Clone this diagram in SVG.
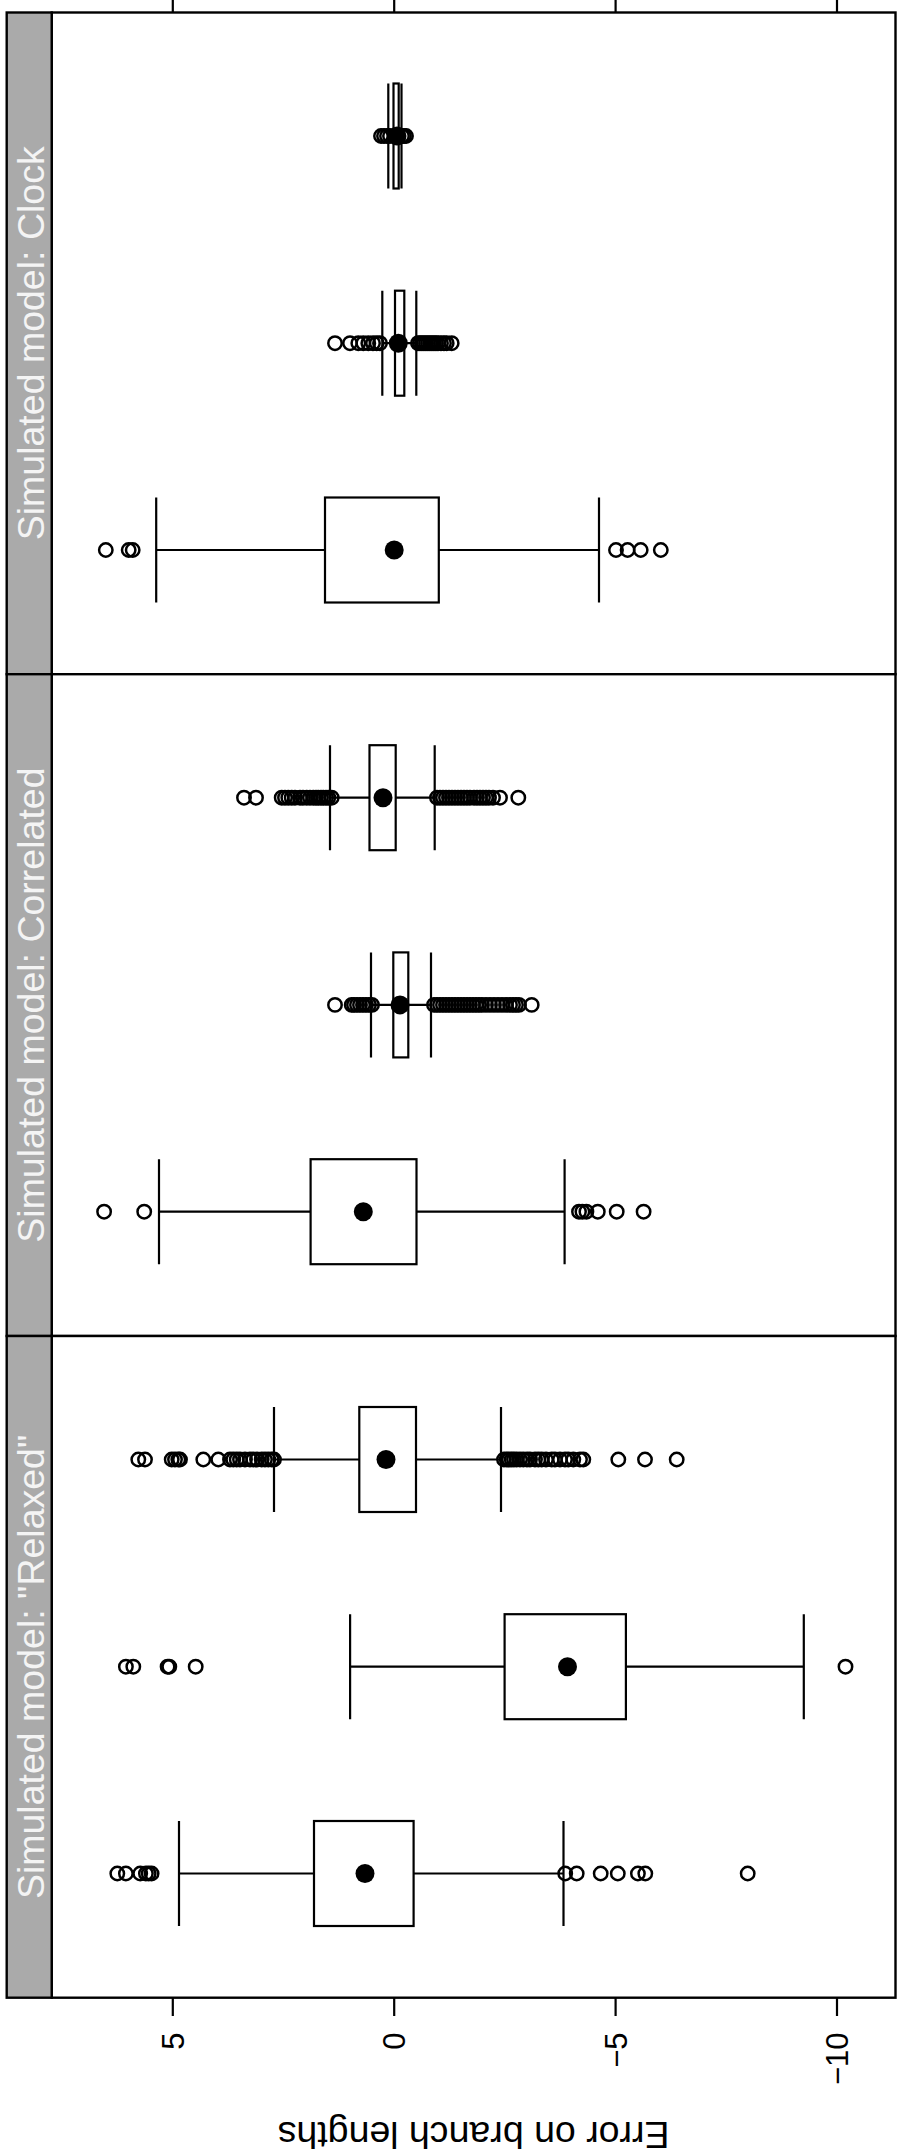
<svg xmlns="http://www.w3.org/2000/svg" width="897" height="2156" viewBox="0 0 897 2156">
<style>
.fr{fill:#fff;stroke:#000;stroke-width:2.4}
.st{fill:#aaaaaa;stroke:#000;stroke-width:2.4}
.bx{fill:none;stroke:#000;stroke-width:2.2}
.o circle{fill:none;stroke:#000;stroke-width:2.5}
.m{fill:#000}
.ax{stroke:#000;stroke-width:2.2}
text{font-family:"Liberation Sans",Arial,Helvetica,sans-serif}
.sl{fill:#f4f4f4;font-size:37.5px}
.tl{font-size:31px;fill:#000}
.ttl{font-size:37.5px;fill:#000}
</style>
<rect x="0" y="0" width="897" height="2156" fill="#fff"/>

<g id="axes">
<path class="ax" d="M172.8 0V12.5M394.2 0V12.5M615.6 0V12.5M837 0V12.5M172.8 1997.7V2016M394.2 1997.7V2016M615.6 1997.7V2016M837 1997.7V2016"/>
<text class="tl" text-anchor="end" transform="translate(183.8,2032.5) rotate(-90)">5</text>
<text class="tl" text-anchor="end" transform="translate(405.2,2032.5) rotate(-90)">0</text>
<text class="tl" text-anchor="end" transform="translate(626.6,2032.5) rotate(-90)">−5</text>
<text class="tl" text-anchor="end" transform="translate(848,2032.5) rotate(-90)">−10</text>
<text class="ttl" text-anchor="middle" transform="translate(473.6,2121.7) rotate(180)">Error on branch lengths</text>
</g>

<g id="panel-clock">
<rect class="fr" x="51.7" y="12.5" width="843.8" height="661.7"/>
<rect class="st" x="6.7" y="12.5" width="45" height="661.7"/>
<text class="sl" text-anchor="middle" transform="translate(43.5,343.3) rotate(-90)">Simulated model: Clock</text>
<g transform="translate(0,136)">
<path class="bx" d="M388.3 -52.5V52.5M388.3 0H393.5M398.7 0H401.5M401.5 -52.5V52.5"/>
<rect class="bx" x="393.5" y="-52.5" width="5.2" height="105"/>
<g class="o"><circle cx="381" cy="0" r="6.7"/><circle cx="384" cy="0" r="6.7"/><circle cx="387" cy="0" r="6.7"/><circle cx="390" cy="0" r="6.7"/><circle cx="402" cy="0" r="6.7"/><circle cx="404" cy="0" r="6.7"/><circle cx="406" cy="0" r="6.7"/></g>
<circle class="m" cx="397" cy="0" r="9.5"/>
</g>
<g transform="translate(0,343.2)">
<path class="bx" d="M382.3 -52.5V52.5M382.3 0H395M404.3 0H416.3M416.3 -52.5V52.5"/>
<rect class="bx" x="395" y="-52.5" width="9.3" height="105"/>
<g class="o"><circle cx="335" cy="0" r="6.7"/><circle cx="350" cy="0" r="6.7"/><circle cx="358.3" cy="0" r="6.7"/><circle cx="363.3" cy="0" r="6.7"/><circle cx="368.3" cy="0" r="6.7"/><circle cx="373" cy="0" r="6.7"/><circle cx="376.7" cy="0" r="6.7"/><circle cx="380" cy="0" r="6.7"/>
<circle cx="418" cy="0" r="6.7"/><circle cx="420" cy="0" r="6.7"/><circle cx="422" cy="0" r="6.7"/><circle cx="424" cy="0" r="6.7"/><circle cx="426" cy="0" r="6.7"/><circle cx="428" cy="0" r="6.7"/><circle cx="430" cy="0" r="6.7"/><circle cx="432" cy="0" r="6.7"/><circle cx="434" cy="0" r="6.7"/><circle cx="436" cy="0" r="6.7"/><circle cx="438" cy="0" r="6.7"/><circle cx="441" cy="0" r="6.7"/><circle cx="444" cy="0" r="6.7"/><circle cx="446.7" cy="0" r="6.7"/><circle cx="451.7" cy="0" r="6.7"/></g>
<circle class="m" cx="398.3" cy="0" r="9.5"/>
</g>
<g transform="translate(0,550)">
<path class="bx" d="M156.2 -52.5V52.5M156.2 0H325M438.8 0H599M599 -52.5V52.5"/>
<rect class="bx" x="325" y="-52.5" width="113.8" height="105"/>
<g class="o"><circle cx="105.8" cy="0" r="6.7"/><circle cx="128.7" cy="0" r="6.7"/><circle cx="132.7" cy="0" r="6.7"/><circle cx="616" cy="0" r="6.7"/><circle cx="627.6" cy="0" r="6.7"/><circle cx="640.7" cy="0" r="6.7"/><circle cx="660.8" cy="0" r="6.7"/></g>
<circle class="m" cx="394.2" cy="0" r="9.5"/>
</g>
</g>

<g id="panel-correlated">
<rect class="fr" x="51.7" y="674.2" width="843.8" height="661.8"/>
<rect class="st" x="6.7" y="674.2" width="45" height="661.8"/>
<text class="sl" text-anchor="middle" transform="translate(43.5,1005.1) rotate(-90)">Simulated model: Correlated</text>
<g transform="translate(0,797.7)">
<path class="bx" d="M330 -52.5V52.5M330 0H369.5M395.7 0H434.7M434.7 -52.5V52.5"/>
<rect class="bx" x="369.5" y="-52.5" width="26.2" height="105"/>
<g class="o"><circle cx="244" cy="0" r="6.7"/><circle cx="256" cy="0" r="6.7"/><circle cx="281.7" cy="0" r="6.7"/><circle cx="285" cy="0" r="6.7"/><circle cx="288.3" cy="0" r="6.7"/><circle cx="291.7" cy="0" r="6.7"/><circle cx="295" cy="0" r="6.7"/><circle cx="300" cy="0" r="6.7"/><circle cx="303" cy="0" r="6.7"/><circle cx="306.7" cy="0" r="6.7"/><circle cx="310" cy="0" r="6.7"/><circle cx="313.3" cy="0" r="6.7"/><circle cx="316" cy="0" r="6.7"/><circle cx="318.3" cy="0" r="6.7"/><circle cx="321" cy="0" r="6.7"/><circle cx="323.3" cy="0" r="6.7"/><circle cx="326" cy="0" r="6.7"/><circle cx="328.3" cy="0" r="6.7"/><circle cx="331.7" cy="0" r="6.7"/>
<circle cx="437" cy="0" r="6.7"/><circle cx="440" cy="0" r="6.7"/><circle cx="443" cy="0" r="6.7"/><circle cx="446" cy="0" r="6.7"/><circle cx="449" cy="0" r="6.7"/><circle cx="452" cy="0" r="6.7"/><circle cx="455" cy="0" r="6.7"/><circle cx="458" cy="0" r="6.7"/><circle cx="461" cy="0" r="6.7"/><circle cx="464" cy="0" r="6.7"/><circle cx="467" cy="0" r="6.7"/><circle cx="470" cy="0" r="6.7"/><circle cx="474" cy="0" r="6.7"/><circle cx="477" cy="0" r="6.7"/><circle cx="480" cy="0" r="6.7"/><circle cx="483" cy="0" r="6.7"/><circle cx="486" cy="0" r="6.7"/><circle cx="489" cy="0" r="6.7"/><circle cx="493" cy="0" r="6.7"/><circle cx="500" cy="0" r="6.7"/><circle cx="518.3" cy="0" r="6.7"/></g>
<circle class="m" cx="383" cy="0" r="9.5"/>
</g>
<g transform="translate(0,1004.9)">
<path class="bx" d="M371 -52.5V52.5M371 0H393.3M408.3 0H431M431 -52.5V52.5"/>
<rect class="bx" x="393.3" y="-52.5" width="15" height="105"/>
<g class="o"><circle cx="335" cy="0" r="6.7"/><circle cx="351.7" cy="0" r="6.7"/><circle cx="354" cy="0" r="6.7"/><circle cx="357" cy="0" r="6.7"/><circle cx="360" cy="0" r="6.7"/><circle cx="363" cy="0" r="6.7"/><circle cx="366" cy="0" r="6.7"/><circle cx="369" cy="0" r="6.7"/><circle cx="372" cy="0" r="6.7"/>
<circle cx="434" cy="0" r="6.7"/><circle cx="437" cy="0" r="6.7"/><circle cx="440" cy="0" r="6.7"/><circle cx="443" cy="0" r="6.7"/><circle cx="446" cy="0" r="6.7"/><circle cx="449" cy="0" r="6.7"/><circle cx="452" cy="0" r="6.7"/><circle cx="455" cy="0" r="6.7"/><circle cx="458" cy="0" r="6.7"/><circle cx="461" cy="0" r="6.7"/><circle cx="464" cy="0" r="6.7"/><circle cx="467" cy="0" r="6.7"/><circle cx="470" cy="0" r="6.7"/><circle cx="473" cy="0" r="6.7"/><circle cx="476" cy="0" r="6.7"/><circle cx="479" cy="0" r="6.7"/><circle cx="482" cy="0" r="6.7"/><circle cx="486" cy="0" r="6.7"/><circle cx="490" cy="0" r="6.7"/><circle cx="494" cy="0" r="6.7"/><circle cx="498" cy="0" r="6.7"/><circle cx="502" cy="0" r="6.7"/><circle cx="506" cy="0" r="6.7"/><circle cx="510" cy="0" r="6.7"/><circle cx="513" cy="0" r="6.7"/><circle cx="516" cy="0" r="6.7"/><circle cx="519" cy="0" r="6.7"/><circle cx="531.7" cy="0" r="6.7"/></g>
<circle class="m" cx="400" cy="0" r="9.5"/>
</g>
<g transform="translate(0,1211.7)">
<path class="bx" d="M159 -52.5V52.5M159 0H310.6M416.5 0H564.6M564.6 -52.5V52.5"/>
<rect class="bx" x="310.6" y="-52.5" width="105.9" height="105"/>
<g class="o"><circle cx="104.1" cy="0" r="6.7"/><circle cx="144.2" cy="0" r="6.7"/><circle cx="579" cy="0" r="6.7"/><circle cx="582.4" cy="0" r="6.7"/><circle cx="586.4" cy="0" r="6.7"/><circle cx="597.8" cy="0" r="6.7"/><circle cx="616.7" cy="0" r="6.7"/><circle cx="643.6" cy="0" r="6.7"/></g>
<circle class="m" cx="363.3" cy="0" r="9.5"/>
</g>
</g>

<g id="panel-relaxed">
<rect class="fr" x="51.7" y="1336" width="843.8" height="661.7"/>
<rect class="st" x="6.7" y="1336" width="45" height="661.7"/>
<text class="sl" text-anchor="middle" transform="translate(43.5,1666.9) rotate(-90)">Simulated model: "Relaxed"</text>
<g transform="translate(0,1459.5)">
<path class="bx" d="M274 -52.5V52.5M274 0H359.3M416 0H501M501 -52.5V52.5"/>
<rect class="bx" x="359.3" y="-52.5" width="56.7" height="105"/>
<g class="o"><circle cx="138.3" cy="0" r="6.7"/><circle cx="145" cy="0" r="6.7"/><circle cx="171.7" cy="0" r="6.7"/><circle cx="175" cy="0" r="6.7"/><circle cx="178.3" cy="0" r="6.7"/><circle cx="180" cy="0" r="6.7"/><circle cx="203.3" cy="0" r="6.7"/><circle cx="218.3" cy="0" r="6.7"/><circle cx="230" cy="0" r="6.7"/><circle cx="233.3" cy="0" r="6.7"/><circle cx="236.7" cy="0" r="6.7"/><circle cx="240" cy="0" r="6.7"/><circle cx="245" cy="0" r="6.7"/><circle cx="250" cy="0" r="6.7"/><circle cx="253.3" cy="0" r="6.7"/><circle cx="257" cy="0" r="6.7"/><circle cx="261.7" cy="0" r="6.7"/><circle cx="265" cy="0" r="6.7"/><circle cx="268.3" cy="0" r="6.7"/><circle cx="271.7" cy="0" r="6.7"/><circle cx="274" cy="0" r="6.7"/>
<circle cx="504" cy="0" r="6.7"/><circle cx="506.7" cy="0" r="6.7"/><circle cx="509" cy="0" r="6.7"/><circle cx="511.7" cy="0" r="6.7"/><circle cx="514" cy="0" r="6.7"/><circle cx="516.7" cy="0" r="6.7"/><circle cx="520" cy="0" r="6.7"/><circle cx="523.3" cy="0" r="6.7"/><circle cx="527" cy="0" r="6.7"/><circle cx="530" cy="0" r="6.7"/><circle cx="535" cy="0" r="6.7"/><circle cx="538.3" cy="0" r="6.7"/><circle cx="541.7" cy="0" r="6.7"/><circle cx="546" cy="0" r="6.7"/><circle cx="551.7" cy="0" r="6.7"/><circle cx="555" cy="0" r="6.7"/><circle cx="560" cy="0" r="6.7"/><circle cx="565" cy="0" r="6.7"/><circle cx="568.3" cy="0" r="6.7"/><circle cx="573.3" cy="0" r="6.7"/><circle cx="580" cy="0" r="6.7"/><circle cx="583.3" cy="0" r="6.7"/><circle cx="618.3" cy="0" r="6.7"/><circle cx="645" cy="0" r="6.7"/><circle cx="676.7" cy="0" r="6.7"/></g>
<circle class="m" cx="386" cy="0" r="9.5"/>
</g>
<g transform="translate(0,1666.7)">
<path class="bx" d="M350.1 -52.5V52.5M350.1 0H504.6M625.9 0H803.8M803.8 -52.5V52.5"/>
<rect class="bx" x="504.6" y="-52.5" width="121.3" height="105"/>
<g class="o"><circle cx="125.9" cy="0" r="6.7"/><circle cx="133.3" cy="0" r="6.7"/><circle cx="167.6" cy="0" r="6.7"/><circle cx="169.3" cy="0" r="6.7"/><circle cx="195.7" cy="0" r="6.7"/><circle cx="845.5" cy="0" r="6.7"/></g>
<circle class="m" cx="567.5" cy="0" r="9.5"/>
</g>
<g transform="translate(0,1873.5)">
<path class="bx" d="M179 -52.5V52.5M179 0H314M413.6 0H563.5M563.5 -52.5V52.5"/>
<rect class="bx" x="314" y="-52.5" width="99.6" height="105"/>
<g class="o"><circle cx="117.3" cy="0" r="6.7"/><circle cx="125.9" cy="0" r="6.7"/><circle cx="140.2" cy="0" r="6.7"/><circle cx="145.9" cy="0" r="6.7"/><circle cx="148.7" cy="0" r="6.7"/><circle cx="151.6" cy="0" r="6.7"/><circle cx="565.2" cy="0" r="6.7"/><circle cx="576.7" cy="0" r="6.7"/><circle cx="600.7" cy="0" r="6.7"/><circle cx="617.8" cy="0" r="6.7"/><circle cx="637.9" cy="0" r="6.7"/><circle cx="645.3" cy="0" r="6.7"/><circle cx="747.7" cy="0" r="6.7"/></g>
<circle class="m" cx="365" cy="0" r="9.5"/>
</g>
</g>
</svg>
